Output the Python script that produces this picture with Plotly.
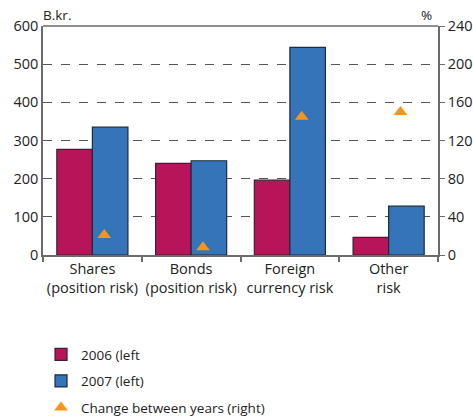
import plotly.graph_objects as go

categories = ["Shares<br>(position risk)", "Bonds<br>(position risk)", "Foreign<br>currency risk", "Other<br>risk"]
values_2006 = [277, 240, 196, 46]
values_2007 = [335, 247, 544, 128]
change_pct = [21, 8, 145, 150]

idx = list(range(len(categories)))
tri_x = [i + 0.12 for i in idx]

FONT = "Open Sans"
grey = "#6b6b6b"

fig = go.Figure()
fig.add_trace(go.Bar(x=idx, y=values_2006, name="2006 (left", legendgroup="a",
                     marker=dict(color="#B8145A", line=dict(color="#3a2030", width=1.2))))
fig.add_trace(go.Bar(x=idx, y=values_2007, name="2007 (left)", legendgroup="b",
                     marker=dict(color="#3574B8", line=dict(color="#1e2a3a", width=1.2))))
fig.add_trace(go.Scatter(x=tri_x, y=change_pct, yaxis="y2", mode="markers",
                         name="Change between years (right)", legendgroup="c",
                         marker=dict(symbol="triangle-up", size=12, color="#F7941D")))
fig.add_trace(go.Scatter(x=[-0.5, 3.5], y=[0, 0], xaxis="x2", mode="markers",
                         marker=dict(opacity=0), showlegend=False, hoverinfo="skip"))

fig.update_layout(
    width=473, height=419,
    margin=dict(l=43, r=35, t=26, b=164, autoexpand=False),
    paper_bgcolor="white", plot_bgcolor="white",
    font=dict(family=FONT, size=14, color="#222"),
    barmode="group", bargap=0.28, bargroupgap=0,
    showlegend=True,
    legend=dict(x=-0.005, y=-0.367, xanchor="left", yanchor="top",
                orientation="v", tracegroupgap=6, font=dict(size=13.5, family=FONT)),
    xaxis=dict(range=[-0.5, 3.5], tickvals=idx, ticktext=categories, ticks="",
               showgrid=False, zeroline=False, showline=True, linecolor=grey, linewidth=1.5,
               automargin=False, tickfont=dict(size=14.5)),
    xaxis2=dict(range=[-0.5, 3.5], overlaying="x", tickvals=[-0.5, 0.5, 1.5, 2.5, 3.5],
                ticktext=["", "", "", "", ""], ticks="outside", ticklen=6, tickcolor=grey,
                tickwidth=1.5, showgrid=False, zeroline=False, showline=False, side="bottom",
                anchor="y", automargin=False),
    yaxis=dict(range=[0, 600], dtick=100, showgrid=True, gridcolor="#555",
               griddash="dash", gridwidth=1.2, zeroline=False, showline=True,
               linecolor=grey, linewidth=1.5, ticks="outside", ticklen=0, tickcolor=grey,
               automargin=False, tickfont=dict(size=14.5)),
    yaxis2=dict(range=[0, 240], dtick=40, overlaying="y", side="right", showgrid=False,
                zeroline=False, showline=True, linecolor=grey, linewidth=1.5,
                ticks="outside", ticklen=5, tickcolor=grey, automargin=False,
                tickfont=dict(size=14.5)),
    shapes=[dict(type="line", xref="paper", yref="paper", x0=0, x1=1, y0=1, y1=1,
                 line=dict(color=grey, width=1.5))],
    annotations=[
        dict(text="B.kr.", xref="paper", yref="paper", x=-0.005, y=1.0, xanchor="left",
             yanchor="bottom", showarrow=False, font=dict(size=13.5)),
        dict(text="%", xref="paper", yref="paper", x=0.99, y=1.0, xanchor="right",
             yanchor="bottom", showarrow=False, font=dict(size=13.5)),
    ],
)

fig.write_html("out.html", config={"displayModeBar": False},
               post_script="document.body.style.margin='0';")
